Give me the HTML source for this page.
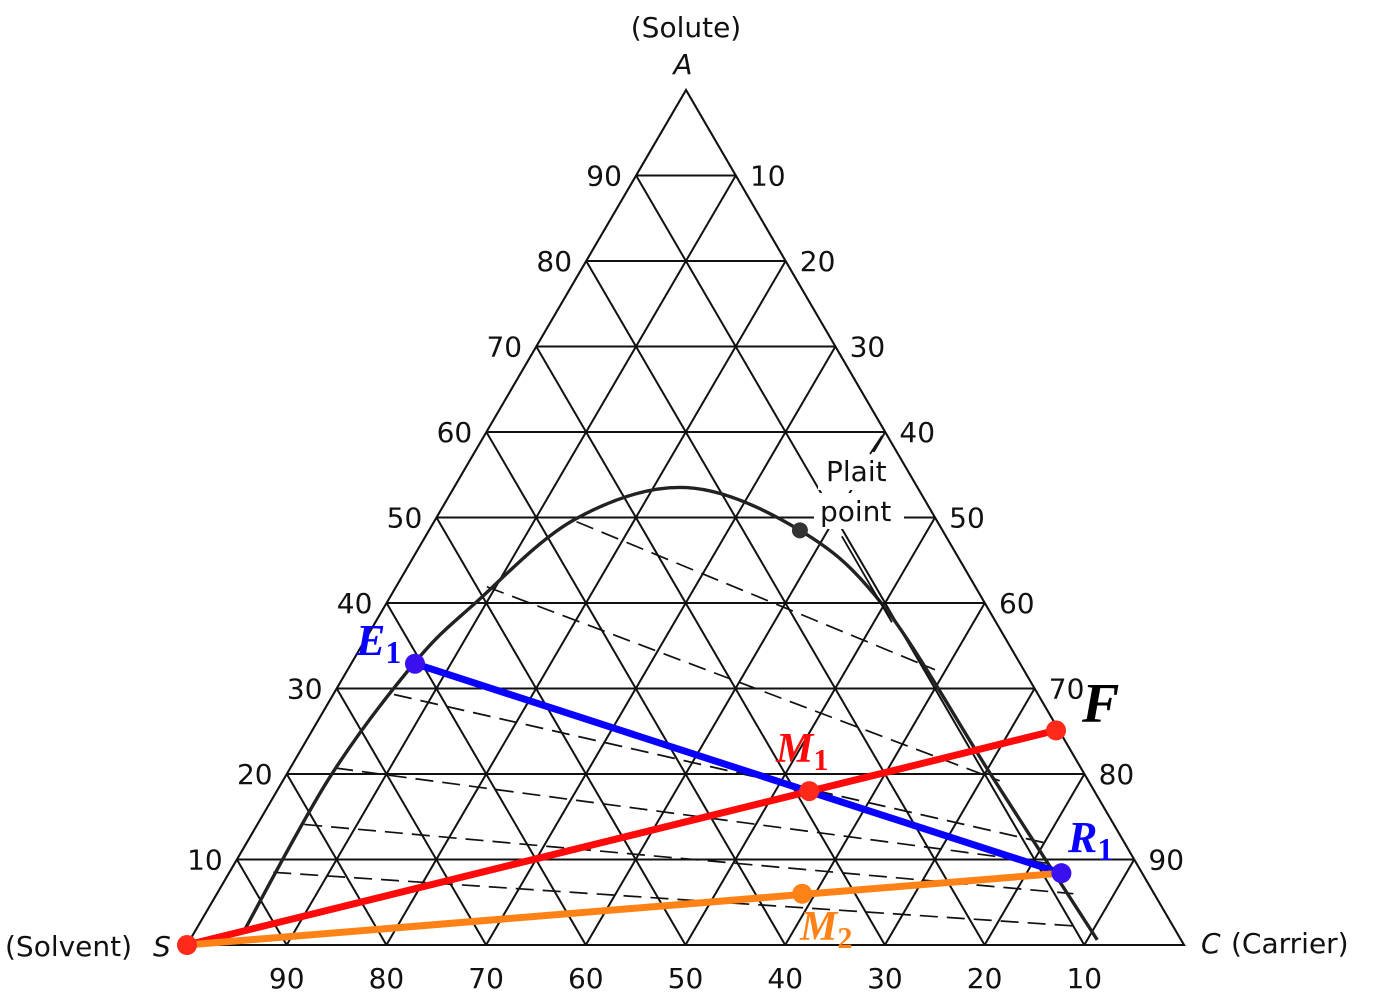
<!DOCTYPE html>
<html><head><meta charset="utf-8"><style>
html,body{margin:0;padding:0;background:#fff;}
svg{display:block;}
.t{font-family:"DejaVu Sans","Liberation Sans",sans-serif;font-size:28px;fill:#111;}
.it{font-family:"Liberation Serif",serif;font-weight:bold;}
</style></head><body>
<svg id="chart" width="1400" height="993" viewBox="0 0 1400 993" xmlns="http://www.w3.org/2000/svg">
<g id="grid"></g>
<g id="ties"></g>
<path id="curve" fill="none" stroke="#222" stroke-width="3.4"/>
<g id="marks"></g>
<g id="labels"></g>
</svg>
<script>
// ternary data: [A%, C%] (S% = 100 - A - C)
const gridValues = [10,20,30,40,50,60,70,80,90];
const leftTickLabels = ["10","20","30","40","50","60","70","80","90"];
const rightTickLabels = ["90","80","70","60","50","40","30","20","10"];
const bottomTickLabels = ["90","80","70","60","50","40","30","20","10"];
const binodalA = [1.5,19.6,33.0,40.0,49.8,53.5,48.5,39.5,19.6,0.6];
const binodalC = [4.9,4.5,6.3,8.9,14.0,23.3,37.2,50.2,71.0,91.0];
const tieStartA = [49.5,41.9,29.3,20.7,14.1,8.5];
const tieStartC = [14.3,9.1,6.1,4.5,4.7,4.4];
const tieEndA = [32.2,19.2,11.8,9.3,6.0,2.2];
const tieEndC = [58.9,71.9,80.7,83.3,85.9,88.3];
const pointNames = ["S","F","E1","R1","M1","M2"];
const pointA = [0,25.1,32.9,8.4,18.0,6.0];
const pointC = [0,74.6,6.4,83.5,53.4,58.7];
const plaitA = [48.5];
const plaitC = [37.2];

const NS="http://www.w3.org/2000/svg";
const Ax=686,Ay=90,Sx=187,Sy=945,Cx=1184,Cy=945;
function px(a,c){const s=100-a-c;return (a*Ax+s*Sx+c*Cx)/100;}
function py(a,c){const s=100-a-c;return (a*Ay+s*Sy+c*Cy)/100;}
function mk(tag,parent,attrs){const e=document.createElementNS(NS,tag);for(const k in attrs)e.setAttribute(k,attrs[k]);parent.appendChild(e);return e;}
function line(parent,a1,c1,a2,c2,st){return mk('line',parent,Object.assign({x1:px(a1,c1),y1:py(a1,c1),x2:px(a2,c2),y2:py(a2,c2)},st));}

const grid=document.getElementById('grid');
const gs={stroke:'#111','stroke-width':2};
let e;
gridValues.forEach(k=>{
  e=line(grid,k,0,k,100-k,gs);
  
  
  e=line(grid,0,k,100-k,k,gs);
  
  
  e=line(grid,0,100-k,100-k,0,gs);
  
  
});
e=mk('rect',grid,{x:818,y:452,width:72,height:38,fill:'#fff'});


e=mk('rect',grid,{x:814,y:493,width:90,height:36,fill:'#fff'});


e=mk('polygon',grid,{points:`${Ax},${Ay} ${Sx},${Sy} ${Cx},${Cy}`,fill:'none',stroke:'#111','stroke-width':2.1});



const ties=document.getElementById('ties');
tieStartA.forEach((v,i)=>{
  e=line(ties,v,tieStartC[i],tieEndA[i],tieEndC[i],{stroke:'#111','stroke-width':1.7,'stroke-dasharray':'18 9'});
  
  
});

const P=binodalA.map((a,i)=>[px(a,binodalC[i]),py(a,binodalC[i])]);
let d=`M${P[0][0]},${P[0][1]}`;
for(let i=0;i<P.length-1;i++){
  const p0=P[Math.max(0,i-1)],p1=P[i],p2=P[i+1],p3=P[Math.min(P.length-1,i+2)];
  d+=` C${p1[0]+(p2[0]-p0[0])/6},${p1[1]+(p2[1]-p0[1])/6} ${p2[0]-(p3[0]-p1[0])/6},${p2[1]-(p3[1]-p1[1])/6} ${p2[0]},${p2[1]}`;
}
document.getElementById('curve').setAttribute('d',d);

const marks=document.getElementById('marks');
e=mk('circle',marks,{cx:px(plaitA[0],plaitC[0]),cy:py(plaitA[0],plaitC[0]),r:8,fill:'#333'});


e=mk('line',marks,{x1:px(plaitA[0],plaitC[0])+42,y1:py(plaitA[0],plaitC[0])+6,x2:px(plaitA[0],plaitC[0])+92,y2:py(plaitA[0],plaitC[0])+92,stroke:'#111','stroke-width':1.8});


e=mk('line',marks,{x1:882,y1:436,x2:870,y2:454,stroke:'#111','stroke-width':1.8});


const idx=n=>pointNames.indexOf(n);
function seg(n1,n2,col,name){
  const i=idx(n1),j=idx(n2);
  const l=line(marks,pointA[i],pointC[i],pointA[j],pointC[j],{stroke:col,'stroke-width':7,'stroke-linecap':'round'});
  
  
}
seg('E1','R1','#0a00ff','extract-raffinate-line');
seg('S','F','#ff0a0a','feed-solvent-line');
seg('S','R1','#ff8217','raffinate-solvent-line');
const dotCol={S:'#ff2a1a',F:'#ff2a1a',E1:'#3a10f0',R1:'#3a10f0',M1:'#ff2a1a',M2:'#ff8217'};
pointNames.forEach((n,i)=>{
  const c=mk('circle',marks,{cx:px(pointA[i],pointC[i]),cy:py(pointA[i],pointC[i]),r:10,fill:dotCol[n]});
  
  
});

const labels=document.getElementById('labels');
function txt(x,y,s,cls,attrs,name){
  const t=mk('text',labels,Object.assign({x:x,y:y,class:cls},attrs||{}));
  t.textContent=s;
  
  
  return t;
}
gridValues.forEach((k,i)=>{
  txt(px(k,0)-32,py(k,0)+10,leftTickLabels[i],'t',{'text-anchor':'middle'},'left-tick-'+k);
  txt(px(k,100-k)+32,py(k,100-k)+10,rightTickLabels[i],'t',{'text-anchor':'middle'},'right-tick-'+k);
  txt(px(0,k),988,bottomTickLabels[i],'t',{'text-anchor':'middle'},'bottom-tick-'+k);
});
txt(686,37,'(Solute)','t',{'text-anchor':'middle'},'solute-label');
txt(683,74,'A','t',{'text-anchor':'middle','font-family':'Liberation Serif,serif','font-style':'italic'},'vertex-a-label');
txt(5,956,'(Solvent)','t',{},'solvent-label');
txt(153,956,'S','t',{'font-family':'Liberation Serif,serif','font-style':'italic'},'vertex-s-label');
txt(1201,953,'C','t',{'font-family':'Liberation Serif,serif','font-style':'italic'},'vertex-c-label');
txt(1231,953,'(Carrier)','t',{},'carrier-label');
txt(826,481,'Plait','t',{},'plait-label');
txt(820,521,'point','t',{},'point-label');
function sub(x,y,main,s,col,size,name){
  const t=mk('text',labels,{x:x,y:y,class:'it',fill:col,'font-size':size});
  
  
  const t1=mk('tspan',t,{'font-style':'italic'});t1.textContent=main;
  if(s){const t2=mk('tspan',t,{dy:8,'font-size':size*0.72});t2.textContent=s;}
}
sub(356,655,'E','1','#0a00ff',44,'e1-label');
sub(776,762,'M','1','#ff0a0a',42,'m1-label');
sub(1068,852,'R','1','#0a00ff',44,'r1-label');
sub(800,940,'M','2','#ff8217',42,'m2-label');
sub(1082,722,'F','','#000',56,'f-label');
</script>
</body></html>
